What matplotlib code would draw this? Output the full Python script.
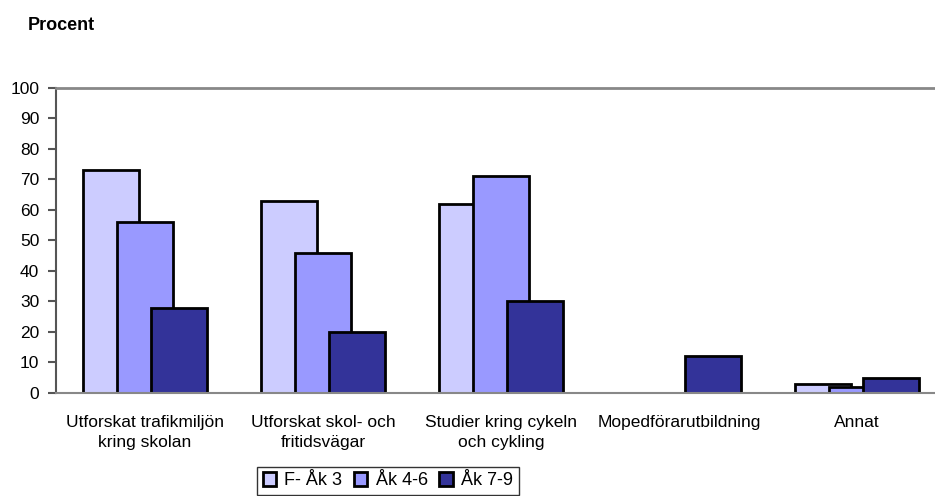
import matplotlib.pyplot as plt
import numpy as np

plt.rcParams['font.family'] = ['Liberation Sans', 'DejaVu Sans']

categories = ['Utforskat trafikmiljön\nkring skolan', 'Utforskat skol- och\nfritidsvägar',
              'Studier kring cykeln\noch cykling', 'Mopedförarutbildning', 'Annat']
series = ['F- Åk 3', 'Åk 4-6', 'Åk 7-9']
f_ak3 = [73, 63, 62, 0, 3]
ak4_6 = [56, 46, 71, 0, 2]
ak7_9 = [28, 20, 30, 12, 5]
colors = ['#CCCCFF', '#9999FF', '#333399']
yticks = list(range(0, 101, 10))

fig = plt.figure(figsize=(9.35, 4.96), dpi=100)
ax = fig.add_axes([0.0599, 0.2077, 0.952, 0.6149])

x = np.arange(len(categories))
width = 0.315
step = 0.191
handles = []
for i, (vals, col) in enumerate(zip([f_ak3, ak4_6, ak7_9], colors)):
    vals = np.array(vals, dtype=float)
    keep = vals > 0  # tomma staplar ritas inte
    b = ax.bar(x[keep] + (i - 1) * step, vals[keep], width=width, color=col,
               edgecolor='black', linewidth=2, zorder=2 + i, label=series[i])
    handles.append(b)

ax.set_xlim(-0.5, 4.5)
ax.set_ylim(0, 100)
ax.set_yticks(yticks)
ax.set_xticks(x)
ax.set_xticklabels(categories, fontsize=12.5, linespacing=1.4)
ax.tick_params(axis='x', length=0, pad=16)
ax.tick_params(axis='y', length=6, width=1.5, color='#555555', labelsize=12.5, pad=6)
ax.spines['right'].set_visible(False)
ax.spines['top'].set_color('#888888')
ax.spines['top'].set_linewidth(2)
ax.spines['bottom'].set_color('#888888')
ax.spines['bottom'].set_linewidth(1.5)
ax.spines['left'].set_color('#555555')
ax.spines['left'].set_linewidth(1.5)
ax.spines['bottom'].set_zorder(10)

fig.text(0.03, 0.966, 'Procent', fontsize=13, fontweight='bold', va='top')

leg = fig.legend(handles=handles, loc='upper left', bbox_to_anchor=(0.275, 0.0585),
                 ncol=3, fontsize=13, frameon=True, fancybox=False,
                 handlelength=0.75, handleheight=0.75, handletextpad=0.45,
                 columnspacing=0.65, borderpad=0.3, borderaxespad=0)
leg.get_frame().set_edgecolor('black')
leg.get_frame().set_linewidth(1)

fig.savefig('out.png', dpi=100)
